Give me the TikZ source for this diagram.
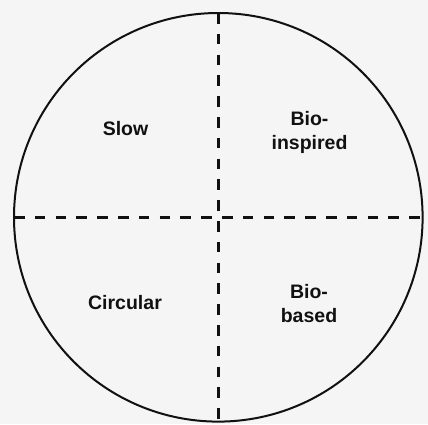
\documentclass[tikz,border=0pt]{standalone}
\usepackage{fontspec}
\setmainfont{Liberation Sans}
\definecolor{bg}{HTML}{F5F5F5}
\definecolor{ink}{HTML}{111111}
\tikzset{
  ring/.style={circle, draw=ink, line width=2pt, minimum size=408.6pt, inner sep=0pt, outer sep=0pt},
  divider/.style={draw=ink, line width=2.4pt, dash pattern=on 10.5pt off 10.3pt},
  quad/.style={text=ink, align=center, inner sep=0pt, font=\fontsize{19.5}{24}\selectfont\bfseries}
}
\begin{document}
\begin{tikzpicture}[x=1pt, y=-1pt]
  \fill[bg] (0,0) rectangle (428,424);
  \useasboundingbox (0,0) rectangle (428,424);
  \node[ring] (c) at (218.3,217.3) {};
  \draw[divider] (c.west) -- (c.east);
  \draw[divider] (c.north) -- (c.south);
  \node[quad] (slow) at (125.5,129) {Slow};
  \node[quad] (bioi) at (309.5,132.5) {Bio-\\inspired};
  \node[quad] (circ) at (125,303) {Circular};
  \node[quad] (biob) at (309,304) {Bio-\\based};
\end{tikzpicture}
\end{document}
